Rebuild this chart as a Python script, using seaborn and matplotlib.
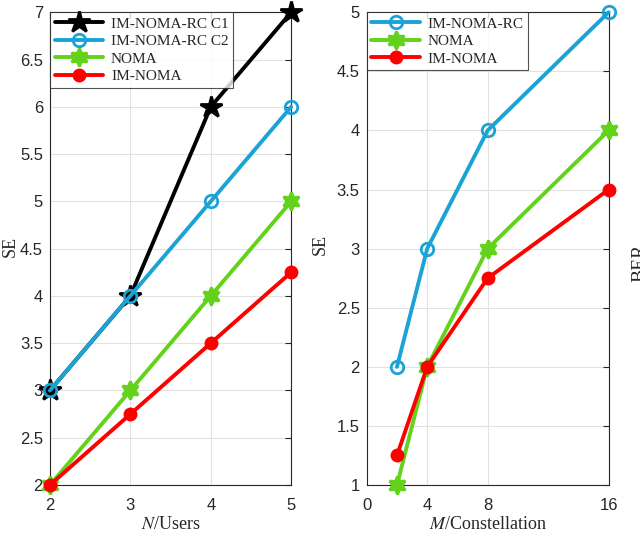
import seaborn as sns
import pandas as pd
import matplotlib.pyplot as plt

# Left panel: SE vs number of users
users = [2, 3, 4, 5]
se_rc_c1 = [3, 4, 6, 7]
se_rc_c2 = [3, 4, 5, 6]
se_noma_users = [2, 3, 4, 5]
se_im_noma_users = [2, 2.75, 3.5, 4.25]

# Right panel: SE vs constellation size
constellation = [2, 4, 8, 16]
se_rc = [2, 3, 4, 5]
se_noma_m = [1, 2, 3, 4]
se_im_noma_m = [1.25, 2, 2.75, 3.5]

sns.set_style('white')
serif = ['Liberation Serif', 'DejaVu Serif']
sans = ['Liberation Sans', 'DejaVu Sans']
plt.rcParams['font.family'] = sans
plt.rcParams['mathtext.fontset'] = 'stix'

blue = '#1ba3d6'
green = '#62d31a'
hexagram = (6, 1, 0)

fig = plt.figure(figsize=(6.4, 5.33), dpi=100)
ax1 = fig.add_axes([0.078, 0.090, 0.377, 0.887])
ax2 = fig.add_axes([0.573, 0.090, 0.378, 0.887])

left_series = [
    (se_rc_c1, 'IM-NOMA-RC C1', 'black', '*', 16, 'black'),
    (se_rc_c2, 'IM-NOMA-RC C2', blue, 'o', 9, 'none'),
    (se_noma_users, 'NOMA', green, hexagram, 13, green),
    (se_im_noma_users, 'IM-NOMA', 'red', 'o', 8, 'red'),
]
for vals, name, col, mk, ms, fc in left_series:
    df = pd.DataFrame({'x': users, 'y': vals})
    sns.lineplot(data=df, x='x', y='y', ax=ax1, color=col, lw=2.8, marker=mk,
                 markersize=ms, markerfacecolor=fc, markeredgecolor=col,
                 markeredgewidth=2, label=name, zorder=3)

right_series = [
    (se_rc, 'IM-NOMA-RC', blue, 'o', 9, 'none'),
    (se_noma_m, 'NOMA', green, hexagram, 13, green),
    (se_im_noma_m, 'IM-NOMA', 'red', 'o', 8, 'red'),
]
for vals, name, col, mk, ms, fc in right_series:
    df = pd.DataFrame({'x': constellation, 'y': vals})
    sns.lineplot(data=df, x='x', y='y', ax=ax2, color=col, lw=2.8, marker=mk,
                 markersize=ms, markerfacecolor=fc, markeredgecolor=col,
                 markeredgewidth=2, label=name, zorder=3)

ax1.set_xlim(2, 5)
ax1.set_ylim(2, 7)
ax1.set_xticks([2, 3, 4, 5])
ax1.set_yticks([2, 2.5, 3, 3.5, 4, 4.5, 5, 5.5, 6, 6.5, 7])
ax1.set_yticklabels(['2', '2.5', '3', '3.5', '4', '4.5', '5', '5.5', '6', '6.5', '7'])
ax1.set_xlabel('$N$/Users', family=serif, fontsize=13)
ax1.set_ylabel('SE', family=serif, fontsize=13)
ax1.yaxis.set_label_coords(-0.128, 0.505)
ax1.xaxis.set_label_coords(0.5, -0.066)

ax2.set_xlim(0, 16)
ax2.set_ylim(1, 5)
ax2.set_xticks([0, 4, 8, 16])
ax2.set_yticks([1, 1.5, 2, 2.5, 3, 3.5, 4, 4.5, 5])
ax2.set_yticklabels(['1', '1.5', '2', '2.5', '3', '3.5', '4', '4.5', '5'])
ax2.set_xlabel('$M$/Constellation', family=serif, fontsize=13)
ax2.set_ylabel('SE', family=serif, fontsize=13)
ax2.yaxis.set_label_coords(-0.155, 0.508)
ax2.xaxis.set_label_coords(0.5, -0.066)

for ax in (ax1, ax2):
    ax.grid(True, color='#e2e2e2', lw=0.8)
    ax.set_axisbelow(True)
    ax.tick_params(direction='in', top=True, right=True, labelsize=12,
                   length=4, width=0.8, colors='#262626', pad=5)
    ax.tick_params(axis='x', pad=9)
    for s in ax.spines.values():
        s.set_color('#262626')
        s.set_linewidth(0.8)
        s.set_visible(True)
    for ln in ax.lines:
        ln.set_clip_on(False)
    leg = ax.legend(loc='upper left', prop={'family': serif, 'size': 11},
                    frameon=True, fancybox=False, edgecolor='#262626',
                    borderaxespad=0.0, handlelength=3.2, labelspacing=0.25,
                    borderpad=0.3, handletextpad=0.5)
    leg.get_frame().set_linewidth(0.8)

# axis label of a neighbouring panel, cut off at the right edge as in the source
fig.text(1.0, 0.507, 'BER', rotation=90, family=serif, fontsize=14,
         ha='center', va='center', color='#262626')

fig.savefig('out.png', dpi=100)
